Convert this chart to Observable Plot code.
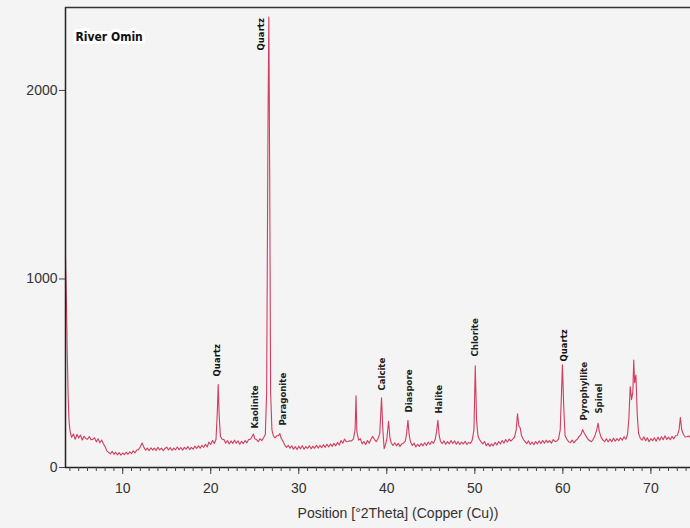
<!DOCTYPE html>
<html>
<head>
<meta charset="utf-8">
<script src="https://cdn.jsdelivr.net/npm/d3@7"></script>
<script src="https://cdn.jsdelivr.net/npm/@observablehq/plot@0.6"></script>
<style>
  html, body { margin: 0; padding: 0; background: #f4f4f4; }
  #chart { width: 690px; height: 528px; }
</style>
</head>
<body>
<div id="chart"></div>
<script>
// Position [°2Theta]
const twoTheta = [
  3.5,3.6,3.7,3.8,3.9,4.0,4.1,4.2,4.4,4.6,4.8,5.0,5.2,5.4,5.6,5.8,6.0,6.2,6.4,6.6,6.8,7.0,7.2,7.4,7.6,7.8,8.0,8.2,8.4,
  8.6,8.8,9.0,9.2,9.4,9.6,9.8,10.0,10.2,10.4,10.6,10.8,11.0,11.2,11.4,11.6,11.8,12.0,12.2,12.4,12.6,12.8,
  13.0,13.2,13.4,13.6,13.8,14.0,14.2,14.4,14.6,14.8,15.0,15.2,15.4,15.6,15.8,16.0,16.2,16.4,16.6,16.8,17.0,17.2,17.4,17.6,17.8,
  18.0,18.2,18.4,18.6,18.8,19.0,19.2,19.4,19.6,19.8,20.0,20.2,20.4,20.6,20.75,20.85,20.95,21.1,21.3,
  21.5,21.7,21.9,22.1,22.3,22.5,22.7,22.9,23.1,23.3,23.5,23.7,23.9,24.1,24.3,24.5,24.7,24.85,25.0,25.2,25.4,25.6,25.8,26.0,26.2,
  26.35,26.5,26.6,26.7,26.8,26.95,27.1,27.3,27.5,27.7,27.85,28.0,28.2,28.4,28.6,28.8,29.0,29.2,29.4,29.6,29.8,
  30.0,30.2,30.4,30.6,30.8,31.0,31.2,31.4,31.6,31.8,32.0,32.2,32.4,32.6,32.8,33.0,33.2,33.4,33.6,33.8,
  34.0,34.2,34.4,34.6,34.8,35.0,35.2,35.4,35.6,35.8,36.0,36.2,36.4,36.5,36.6,36.8,37.0,37.2,37.4,37.6,37.8,
  38.0,38.2,38.4,38.6,38.8,39.0,39.2,39.4,39.55,39.7,39.85,40.0,40.2,40.35,40.5,40.7,40.9,41.1,41.3,41.5,41.7,41.9,
  42.1,42.25,42.4,42.55,42.7,42.9,43.1,43.3,43.5,43.7,43.9,44.1,44.3,44.5,44.7,44.9,45.1,45.3,45.5,45.65,45.8,45.95,
  46.1,46.3,46.5,46.7,46.9,47.1,47.3,47.5,47.7,47.9,48.1,48.3,48.5,48.7,48.9,49.1,49.3,49.5,49.7,49.9,50.05,50.2,50.35,50.5,50.7,50.9,
  51.1,51.3,51.5,51.7,51.9,52.1,52.3,52.5,52.7,52.9,53.1,53.3,53.5,53.7,53.9,54.1,54.3,54.5,54.7,54.85,55.0,55.15,55.3,55.5,55.7,55.9,
  56.1,56.3,56.5,56.7,56.9,57.1,57.3,57.5,57.7,57.9,58.1,58.3,58.5,58.7,58.9,59.1,59.3,59.5,59.7,59.85,59.95,60.1,60.25,60.45,60.65,60.85,
  61.05,61.25,61.45,61.65,61.85,62.05,62.25,62.45,62.65,62.85,63.05,63.25,63.45,63.65,63.85,64.0,64.15,64.35,64.55,64.75,64.95,
  65.15,65.35,65.55,65.75,65.95,66.15,66.35,66.55,66.75,66.95,67.15,67.35,67.5,67.65,67.8,67.95,68.05,68.15,68.3,68.45,68.6,68.8,
  69.0,69.2,69.4,69.6,69.8,70.0,70.2,70.4,70.6,70.8,71.0,71.2,71.4,71.6,71.8,72.0,72.2,72.4,72.6,72.8,73.0,73.2,73.35,73.5,73.7,73.9,
  74.1,74.3,74.5
];
// Counts
const counts = [
  1120,900,600,380,250,200,175,160,178,150,176,156,172,146,166,154,150,164,148,149,158,136,152,131,146,126,110,88,80,
  72,86,70,81,67,79,66,77,68,81,70,83,74,88,78,93,95,110,130,108,92,103,
  89,105,92,103,90,107,93,103,89,101,108,93,105,91,103,94,109,95,106,92,107,97,111,95,107,
  97,113,101,115,102,118,107,123,109,135,122,143,127,150,300,440,280,165,150,
  148,129,143,125,141,127,145,129,141,123,139,127,143,131,148,150,165,178,152,148,137,153,142,158,175,
  400,1800,2390,1500,400,200,170,157,168,169,180,155,140,120,107,118,102,115,97,111,95,
  113,99,115,97,111,101,115,99,113,102,118,103,117,105,121,107,123,109,125,112,
  128,115,133,119,143,129,151,137,138,142,141,150,200,380,190,145,153,125,138,122,143,
  129,150,165,148,137,153,180,370,200,100,120,150,245,160,130,117,131,115,128,112,125,130,
  140,180,250,170,135,117,129,109,123,112,127,115,131,117,135,122,138,128,150,190,250,170,
  138,127,141,123,137,125,143,127,141,123,137,122,135,125,139,122,133,128,145,200,540,250,170,150,137,125,
  138,115,128,112,125,115,133,119,138,125,143,129,148,135,151,140,150,160,200,285,220,210,170,150,137,127,
  141,122,135,121,138,125,141,127,143,129,145,132,143,129,148,138,140,150,200,400,545,320,170,150,137,132,
  145,131,143,150,165,175,200,180,165,150,142,137,150,170,200,235,190,160,145,137,153,
  135,151,137,155,139,153,142,158,145,163,150,175,260,430,360,400,570,450,490,280,180,155,
  145,163,142,158,137,153,142,158,139,161,145,163,147,168,149,161,147,165,152,168,170,200,265,200,175,162,
  163,167,158
];
// Phase labels
const labelNames = ["Quartz","Kaolinite","Quartz","Paragonite","Calcite","Diaspore","Halite","Chlorite","Quartz","Pyrophyllite","Spinel"];
const labelX = [20.7, 25.0, 25.75, 28.2, 39.4, 42.5, 45.9, 50.0, 60.1, 62.4, 64.1];
const labelY = [483, 207, 2212, 223, 408, 292, 286, 589, 562, 249, 286];
const labelBold = [true, false, true, false, false, false, false, false, true, false, false];

const yTicks = [0, 1000, 2000];
const xTicks = [10, 20, 30, 40, 50, 60, 70];
const xMinorTicks = d3.range(4, 75, 1);
const title = "River Omin";
const xLabel = "Position [°2Theta] (Copper (Cu))";

const pattern = twoTheta.map((x, i) => ({x, y: counts[i]}));
const labels = labelNames.map((name, i) => ({name, x: labelX[i], y: labelY[i], bold: labelBold[i]}));

const chart = Plot.plot({
  width: 690,
  height: 528,
  marginLeft: 65,
  marginRight: 0,
  marginTop: 7,
  marginBottom: 61,
  style: {background: "#f4f4f4", fontFamily: "'Liberation Sans', Arial, sans-serif", color: "#333", overflow: "visible"},
  x: {domain: [3.5, 74.5]},
  y: {domain: [0, 2440]},
  marks: [
    Plot.line(pattern, {x: "x", y: "y", stroke: "#d23c5e", strokeWidth: 1.1}),
    Plot.ruleX([3.5], {stroke: "#222", strokeWidth: 1.5}),
    Plot.ruleY([0], {stroke: "#222", strokeWidth: 1.5}),
    Plot.ruleY([2440], {stroke: "#333", strokeWidth: 1.5}),
    Plot.axisY({ticks: yTicks, tickFormat: d => String(d), tickSize: 6, tickPadding: 2, fontSize: 14, label: null, stroke: "#444", color: "#333"}),
    Plot.axisX({ticks: xTicks, tickSize: 7, tickPadding: 9, fontSize: 14, label: null, stroke: "#444", color: "#333"}),
    Plot.axisX({ticks: xMinorTicks, tickSize: 4, text: null, label: null, stroke: "#444"}),
    Plot.text([xLabel], {frameAnchor: "bottom", dy: 50, dx: 20, fontSize: 14, fill: "#333"}),
    Plot.text(labels.filter(d => d.bold), {x: "x", y: "y", text: "name", rotate: -90, textAnchor: "start",
      fontSize: 9.5, fontWeight: "bold", fontFamily: "'DejaVu Sans Condensed', 'DejaVu Sans', sans-serif", fill: "#111",
      stroke: "#f4f4f4", strokeWidth: 2}),
    Plot.text(labels.filter(d => !d.bold), {x: "x", y: "y", text: "name", rotate: -90, textAnchor: "start",
      fontSize: 9.5, fontWeight: 600, fontFamily: "'DejaVu Sans Condensed', 'DejaVu Sans', sans-serif", fill: "#222",
      stroke: "#f4f4f4", strokeWidth: 2}),
    Plot.text([title], {frameAnchor: "top-left", dx: 10, dy: 25, textAnchor: "start", fontSize: 12, fontWeight: "bold",
      fontFamily: "'DejaVu Sans Condensed', 'DejaVu Sans', sans-serif", fill: "#111", stroke: "white", strokeWidth: 6})
  ]
});
document.getElementById("chart").appendChild(chart);
</script>
</body>
</html>
